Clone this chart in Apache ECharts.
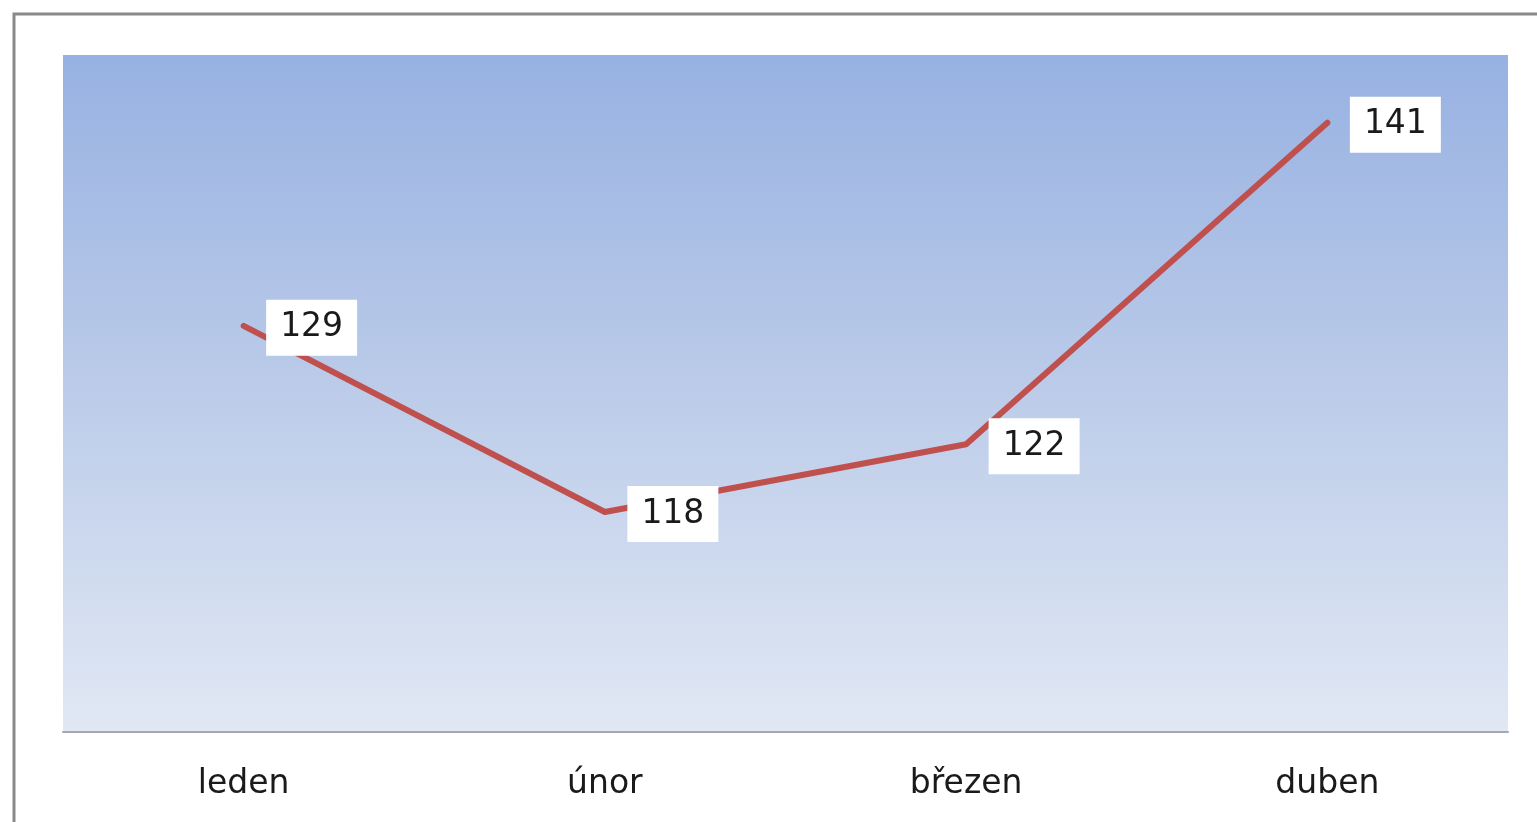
<!DOCTYPE html>
<html>
<head>
<meta charset="utf-8">
<script src="https://cdn.jsdelivr.net/npm/echarts@6/dist/echarts.min.js"></script>
<style>
html,body{margin:0;padding:0;background:#fff;}
#c{width:1537px;height:822px;}
</style>
</head>
<body>
<div id="c"></div>
<script>
var categories = ['leden', 'únor', 'březen', 'duben'];
var values = [129, 118, 122, 141];

var chart = echarts.init(document.getElementById('c'));
chart.setOption({
  animation: false,
  backgroundColor: '#ffffff',
  graphic: [{
    type: 'rect',
    shape: { x: 14, y: 14, width: 1700, height: 1000 },
    style: { fill: 'none', stroke: '#8a8a8a', lineWidth: 3 },
    z: 100
  }],
  grid: {
    left: 63, right: 29, top: 55, bottom: 90,
    show: true,
    borderWidth: 0,
    backgroundColor: new echarts.graphic.LinearGradient(0, 0, 0, 1, [
      { offset: 0, color: '#97b1e2' },
      { offset: 0.5, color: '#bccce9' },
      { offset: 1, color: '#e1e8f4' }
    ])
  },
  xAxis: {
    type: 'category',
    data: categories,
    boundaryGap: true,
    axisLine: { show: true, lineStyle: { color: '#a3a9b3', width: 2 } },
    axisTick: { show: false },
    axisLabel: {
      margin: 36,
      fontFamily: 'DejaVu Sans',
      fontSize: 33,
      color: '#1a1a1a'
    },
    splitLine: { show: false }
  },
  yAxis: {
    type: 'value',
    min: 105,
    max: 145,
    show: false,
    splitLine: { show: false }
  },
  series: [{
    type: 'line',
    data: values,
    symbol: 'circle',
    symbolSize: 1,
    showSymbol: true,
    itemStyle: { color: '#c0504d' },
    lineStyle: { color: '#c0504d', width: 6, cap: 'round', join: 'round' },
    label: {
      show: true,
      position: 'right',
      distance: 22,
      offset: [0, 2],
      backgroundColor: '#ffffff',
      padding: [12, 14, 8, 14],
      lineHeight: 36,
      fontFamily: 'DejaVu Sans',
      fontSize: 33,
      color: '#1a1a1a'
    }
  }]
});
</script>
</body>
</html>
